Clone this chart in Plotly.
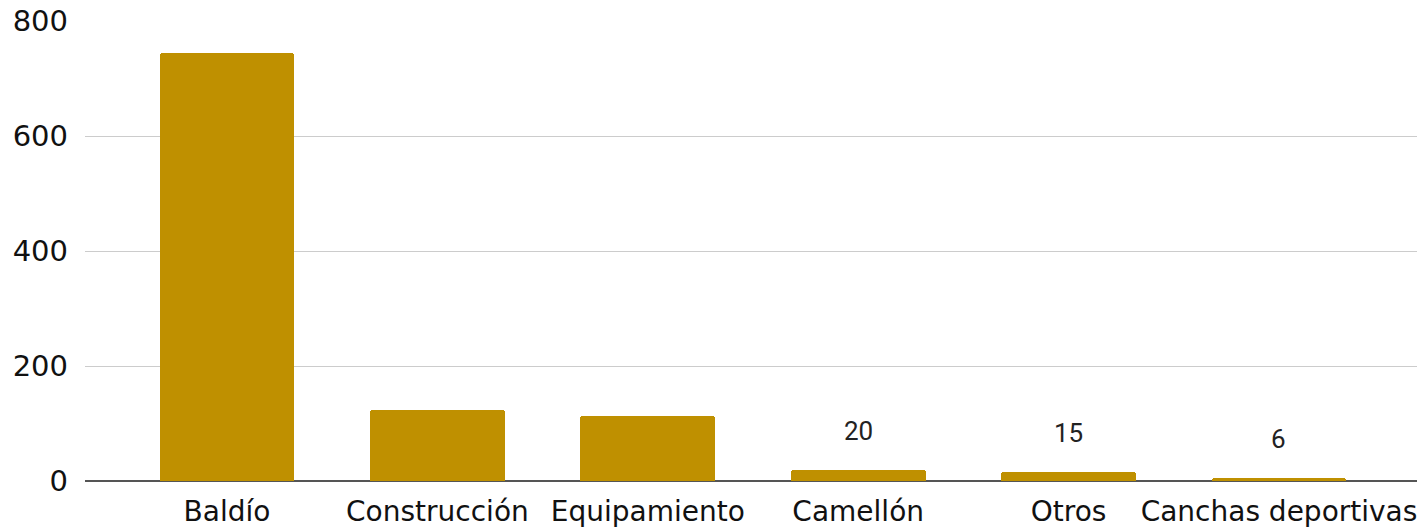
import plotly.graph_objects as go

categories = ["Baldío", "Construcción", "Equipamiento", "Camellón", "Otros", "Canchas deportivas"]
values = [745, 123, 113, 20, 15, 6]
show_label = [False, False, False, True, True, True]
y_ticks = [0, 200, 400, 600, 800]

BAR = "#BF9000"
FONT = "DejaVu Sans"

fig = go.Figure()
fig.add_trace(go.Bar(
    x=list(range(len(categories))),
    y=values,
    width=0.64,
    marker=dict(color=BAR, line=dict(width=0), cornerradius=3),
    hoverinfo="skip",
))

for i, (v, s) in enumerate(zip(values, show_label)):
    if s:
        fig.add_annotation(x=i, y=v, text=str(v), showarrow=False,
                           yanchor="middle", yshift=39,
                           font=dict(family="Roboto", size=26, color="#222222"))

# page body has an 8px margin, so the figure is sized to fill the rest of the window
fig.update_layout(
    width=1417, height=520,
    margin=dict(l=77, r=0, t=13, b=47, autoexpand=False),
    paper_bgcolor="white", plot_bgcolor="white",
    showlegend=False,
    bargap=0,
)
fig.update_xaxes(
    range=[-0.675, 5.694],
    tickmode="array", tickvals=list(range(len(categories))), ticktext=categories,
    tickfont=dict(family=FONT, size=28, color="#111111"),
    showgrid=False, ticks="", showline=False, zeroline=False,
    ticklabelstandoff=11, automargin=False, ticklabeloverflow="allow",
)
fig.update_yaxes(
    range=[0, 800],
    tickmode="array", tickvals=y_ticks,
    tickfont=dict(family=FONT, size=29, color="#111111"),
    showgrid=True, gridcolor="#cccccc", gridwidth=1,
    zeroline=True, zerolinecolor="#555555", zerolinewidth=2,
    ticks="", showline=False,
    ticklabelstandoff=16, automargin=False, ticklabeloverflow="allow",
)

fig.write_html("out.html")
